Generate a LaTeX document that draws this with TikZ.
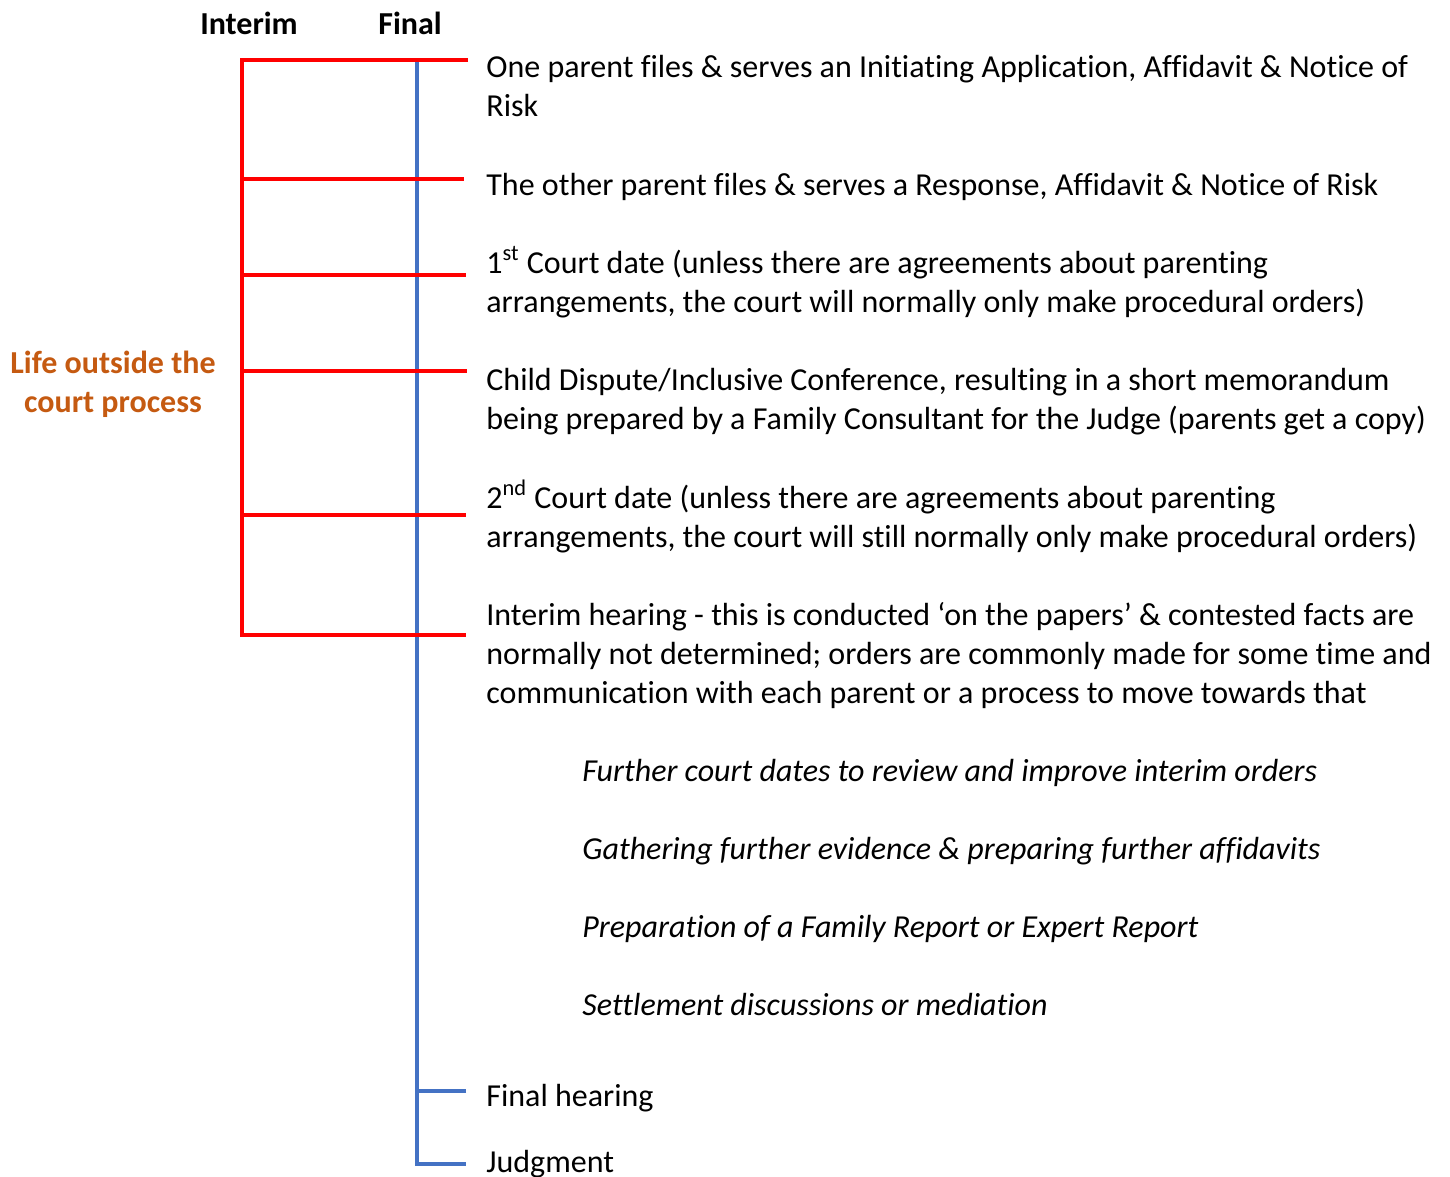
\documentclass[tikz,border=0pt]{standalone}
\usepackage{fontspec}
\setmainfont[Ligatures=NoCommon]{Carlito}
\definecolor{redline}{HTML}{FF0000}
\definecolor{blueline}{HTML}{4472C4}
\definecolor{lifeorange}{HTML}{C55A11}
\begin{document}
\begin{tikzpicture}[x=0.5pt,y=-0.5pt,
  txt/.style={anchor=base west, inner sep=0pt, font=\fontsize{16}{19.5}\selectfont},
  itxt/.style={txt, font=\fontsize{16}{19.5}\selectfont\itshape},
  head/.style={anchor=base, inner sep=0pt, font=\fontsize{16}{19.5}\selectfont\bfseries},
  life/.style={head, text=lifeorange},
  redl/.style={draw=redline, line width=1.6pt},
  bluel/.style={draw=blueline, line width=1.6pt}]
\useasboundingbox (0,0) rectangle (1450,1177);

% headers
\node[head] (hint) at (249,35) {Interim};
\node[head] (hfin) at (410,35) {Final};
\node[life] (life1) at (113,373) {Life outside the};
\node[life] (life2) at (113,412) {court process};

% blue vertical timeline
\coordinate (btop) at (417,62);
\coordinate (b1) at (417,1091);
\coordinate (b2) at (417,1164);
\coordinate (b1e) at (466,1091);
\coordinate (b2e) at (466,1164);
\draw[bluel] (b1e) -- (b1);
\draw[bluel] (btop) -- (b2) -- (b2e);

% red bracket
\coordinate (r1) at (242,60);  \coordinate (r1e) at (468,60);
\coordinate (r2) at (242,179); \coordinate (r2e) at (464,179);
\coordinate (r3) at (242,275); \coordinate (r3e) at (466,275);
\coordinate (r4) at (242,371); \coordinate (r4e) at (467,371);
\coordinate (r5) at (242,515); \coordinate (r5e) at (466,515);
\coordinate (r6) at (242,635); \coordinate (r6e) at (466,635);
\draw[redl] (r1e) -- (r1) -- (r6) -- (r6e);
\draw[redl] (r2) -- (r2e);
\draw[redl] (r3) -- (r3e);
\draw[redl] (r4) -- (r4e);
\draw[redl] (r5) -- (r5e);

% texts
\node[txt] (t1a) at (486,78) {One parent files \& serves an Initiating Application, Affidavit \& Notice of};
\node[txt] (t1b) at (486,117) {Risk};
\node[txt] (t2) at (486,195) {The other parent files \& serves a Response, Affidavit \& Notice of Risk};
\node[txt] (t3a) at (486,273) {1\textsuperscript{st} Court date (unless there are agreements about parenting};
\node[txt] (t3b) at (486,312) {arrangements, the court will normally only make procedural orders)};
\node[txt] (t4a) at (486,390) {Child Dispute/Inclusive Conference, resulting in a short memorandum};
\node[txt] (t4b) at (486,429) {being prepared by a Family Consultant for the Judge (parents get a copy)};
\node[txt] (t5a) at (486,508) {2\textsuperscript{nd} Court date (unless there are agreements about parenting};
\node[txt] (t5b) at (486,547) {arrangements, the court will still normally only make procedural orders)};
\node[txt] (t6a) at (486,625) {Interim hearing - this is conducted `on the papers' \& contested facts are};
\node[txt] (t6b) at (486,664) {normally not determined; orders are commonly made for some time and};
\node[txt] (t6c) at (486,703) {communication with each parent or a process to move towards that};
\node[itxt] (i1) at (582,781) {Further court dates to review and improve interim orders};
\node[itxt] (i2) at (582,859) {Gathering further evidence \& preparing further affidavits};
\node[itxt] (i3) at (582,937) {Preparation of a Family Report or Expert Report};
\node[itxt] (i4) at (582,1015) {Settlement discussions or mediation};
\node[txt] (f1) at (486,1106) {Final hearing};
\node[txt] (f2) at (486,1172) {Judgment};
\end{tikzpicture}
\end{document}
